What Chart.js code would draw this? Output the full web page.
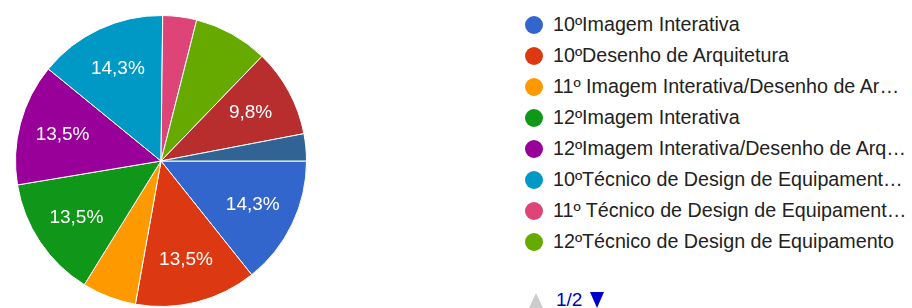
<!DOCTYPE html>
<html>
<head>
<meta charset="utf-8">
<script src="https://cdn.jsdelivr.net/npm/chart.js@4.4.1/dist/chart.umd.min.js"></script>
<style>
    html, body { margin: 0; padding: 0; background: #fff; }
    #wrap { position: relative; width: 912px; height: 308px; overflow: hidden; font-family: Arial, "Liberation Sans", sans-serif; }
    #pieBox { position: absolute; left: 0; top: 0; width: 322px; height: 308px; }
    #legend { position: absolute; left: 525px; top: 9px; margin: 0; padding: 0; list-style: none; }
    #legend li { height: 31px; display: flex; align-items: center; }
    #legend .dot { width: 18px; height: 18px; border-radius: 50%; margin-right: 10px; flex: none; }
    #legend .txt { font-size: 19.7px; color: #222; white-space: nowrap; overflow: hidden; text-overflow: ellipsis; max-width: 355px; }
    #pager { position: absolute; left: 529px; top: 289px; font-size: 19px; color: #0000cc; display: flex; align-items: center; }
    #pager .up { width: 0; height: 0; border-left: 7px solid transparent; border-right: 7px solid transparent; border-bottom: 15px solid #ccc; margin-right: 13px; }
    #pager .down { width: 0; height: 0; border-left: 7px solid transparent; border-right: 7px solid transparent; border-top: 16px solid #0000cc; margin-left: 8px; }
</style>
</head>
<body>
<div id="wrap">
    <div id="pieBox"><canvas id="pieChart" width="322" height="308"></canvas></div>
    <ul id="legend"></ul>
    <div id="pager"><span class="up"></span><span>1/2</span><span class="down"></span></div>
</div>
<script>
const categories = [
    '10ºImagem Interativa',
    '10ºDesenho de Arquitetura',
    '11º Imagem Interativa/Desenho de Arquitetura',
    '12ºImagem Interativa',
    '12ºImagem Interativa/Desenho de Arquitetura',
    '10ºTécnico de Design de Equipamento/Mobiliário',
    '11º Técnico de Design de Equipamento/Mobiliário',
    '12ºTécnico de Design de Equipamento',
    '11ºDesenho de Arquitetura',
    '12ºDesenho de Arquitetura'
];
const counts = [19, 18, 8, 18, 18, 19, 5, 11, 13, 4];
const colors = [
    '#3366cc', '#dc3912', '#ff9900', '#109618', '#990099',
    '#0099c6', '#dd4477', '#66aa00', '#b82e2e', '#316395'
];
const legendPageSize = 8;

const total = counts.reduce((a, b) => a + b, 0);

function pct(v) {
    return (v / total * 100).toFixed(1).replace('.', ',') + '%';
}

// percentage text inside the bigger slices
const sliceLabels = {
    id: 'sliceLabels',
    afterDatasetsDraw(chart) {
        const ctx = chart.ctx;
        const meta = chart.getDatasetMeta(0);
        ctx.save();
        ctx.fillStyle = '#fff';
        ctx.font = '19px Arial, "Liberation Sans", sans-serif';
        ctx.textAlign = 'center';
        ctx.textBaseline = 'middle';
        meta.data.forEach((arc, i) => {
            const v = counts[i];
            if (v / total < 0.09) return;
            const p = arc.getProps(['x', 'y', 'startAngle', 'endAngle', 'outerRadius'], true);
            const mid = (p.startAngle + p.endAngle) / 2;
            const r = p.outerRadius * 0.7;
            ctx.fillText(pct(v), p.x + Math.cos(mid) * r, p.y + Math.sin(mid) * r);
        });
        ctx.restore();
    }
};

const chart = new Chart(document.getElementById('pieChart'), {
    type: 'pie',
    data: {
        labels: categories,
        datasets: [{
            data: counts,
            backgroundColor: colors,
            borderColor: '#fff',
            borderWidth: 1
        }]
    },
    options: {
        responsive: false,
        animation: false,
        rotation: 90,
        layout: { padding: { top: 15, bottom: 1 } },
        plugins: {
            legend: { display: false },
            tooltip: { enabled: false }
        }
    },
    plugins: [sliceLabels]
});

// first page of the legend, built from the chart data
const legend = document.getElementById('legend');
chart.data.labels.slice(0, legendPageSize).forEach((label, i) => {
    const li = document.createElement('li');
    li.innerHTML = `<span class="dot" style="background:${colors[i]}"></span><span class="txt">${label}</span>`;
    legend.appendChild(li);
});
</script>
</body>
</html>
